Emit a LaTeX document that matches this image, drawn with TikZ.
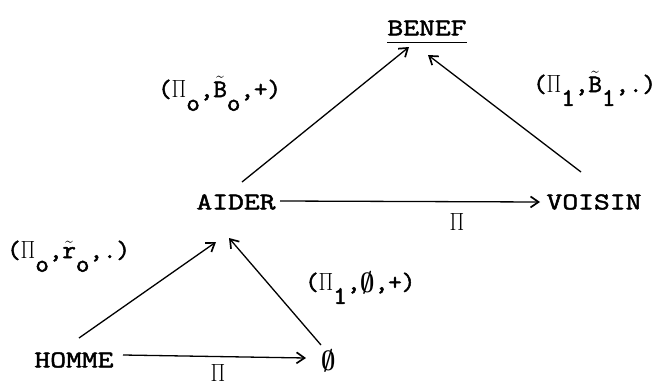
\documentclass[tikz,border=0pt]{standalone}
\usepackage{fontspec}
\usepackage{bm}
\setmonofont{Latin Modern Mono}[FakeStretch=1.28,FakeBold=2]
\newfontfamily\lblfont{Latin Modern Mono}[FakeStretch=1.05,FakeBold=2]
\usetikzlibrary{arrows.meta,calc}
\newcommand{\lowsub}[1]{\raisebox{-0.55em}{#1}}
\newcommand{\myempty}{\raisebox{-0.08em}{\scalebox{1.0}[1.12]{$\bm{\emptyset}$}}}
\newcommand{\myPi}{\scalebox{0.85}[1]{$\Pi$}}
\newcommand{\tl}[1]{$\tilde{\mbox{#1}}$}
\tikzset{
  lbl/.style={inner sep=0pt, font=\lblfont\fontsize{25}{29}\selectfont},
  word/.style={inner sep=0pt, font=\ttfamily\fontsize{24}{28}\selectfont},
  arr/.style={line width=1.3pt, -{Straight Barb[length=8pt,width=11pt,line width=1.7pt]}},
}
\begin{document}
\begin{tikzpicture}[x=1pt,y=-1pt]
\useasboundingbox[fill=white] (0,0) rectangle (670,383);
\node[word] (benef) at (427,28) {BENEF};
\node[word] (aider) at (236,202) {AIDER};
\node[word] (voisin) at (594,202) {VOISIN};
\node[word] (homme) at (74,360) {HOMME};
\node[word] (vide) at (329,361) {\myempty};
\draw[line width=1.5pt] ($(benef.south west)+(0,7)$) -- ($(benef.south east)+(0,7)$);
\node[lbl,anchor=base west] (l1) at (158,97) {(\myPi\lowsub{o},\tl{B}\lowsub{o},+)};
\node[lbl,anchor=base west] (l2) at (533,92) {(\myPi\lowsub{1},\tl{B}\lowsub{1},.)};
\node[lbl,anchor=base west] (l3) at (7,258) {(\myPi\lowsub{o},\tl{r}\lowsub{o},.)};
\node[lbl,anchor=base west] (l4) at (305,290) {(\myPi\lowsub{1},\myempty,+)};
\node[lbl] (p1) at (457,222) {\myPi};
\node[lbl] (p2) at (218,373) {\myPi};
\draw[arr] ($(aider)+(6,-20)$) -- ($(benef)+(-18,19)$);
\draw[arr] ($(voisin)+(-13,-30)$) -- ($(benef)+(1,27)$);
\draw[arr] ($(aider)+(44,-1)$) -- ($(voisin)+(-54,0)$);
\draw[arr] ($(homme)+(5,-22)$) -- ($(aider)+(-20,40)$);
\draw[arr] ($(vide)+(-8,-16)$) -- ($(aider)+(-7,36)$);
\draw[arr] ($(homme)+(49,-5)$) -- ($(vide)+(-23,-3)$);
\end{tikzpicture}
\end{document}
